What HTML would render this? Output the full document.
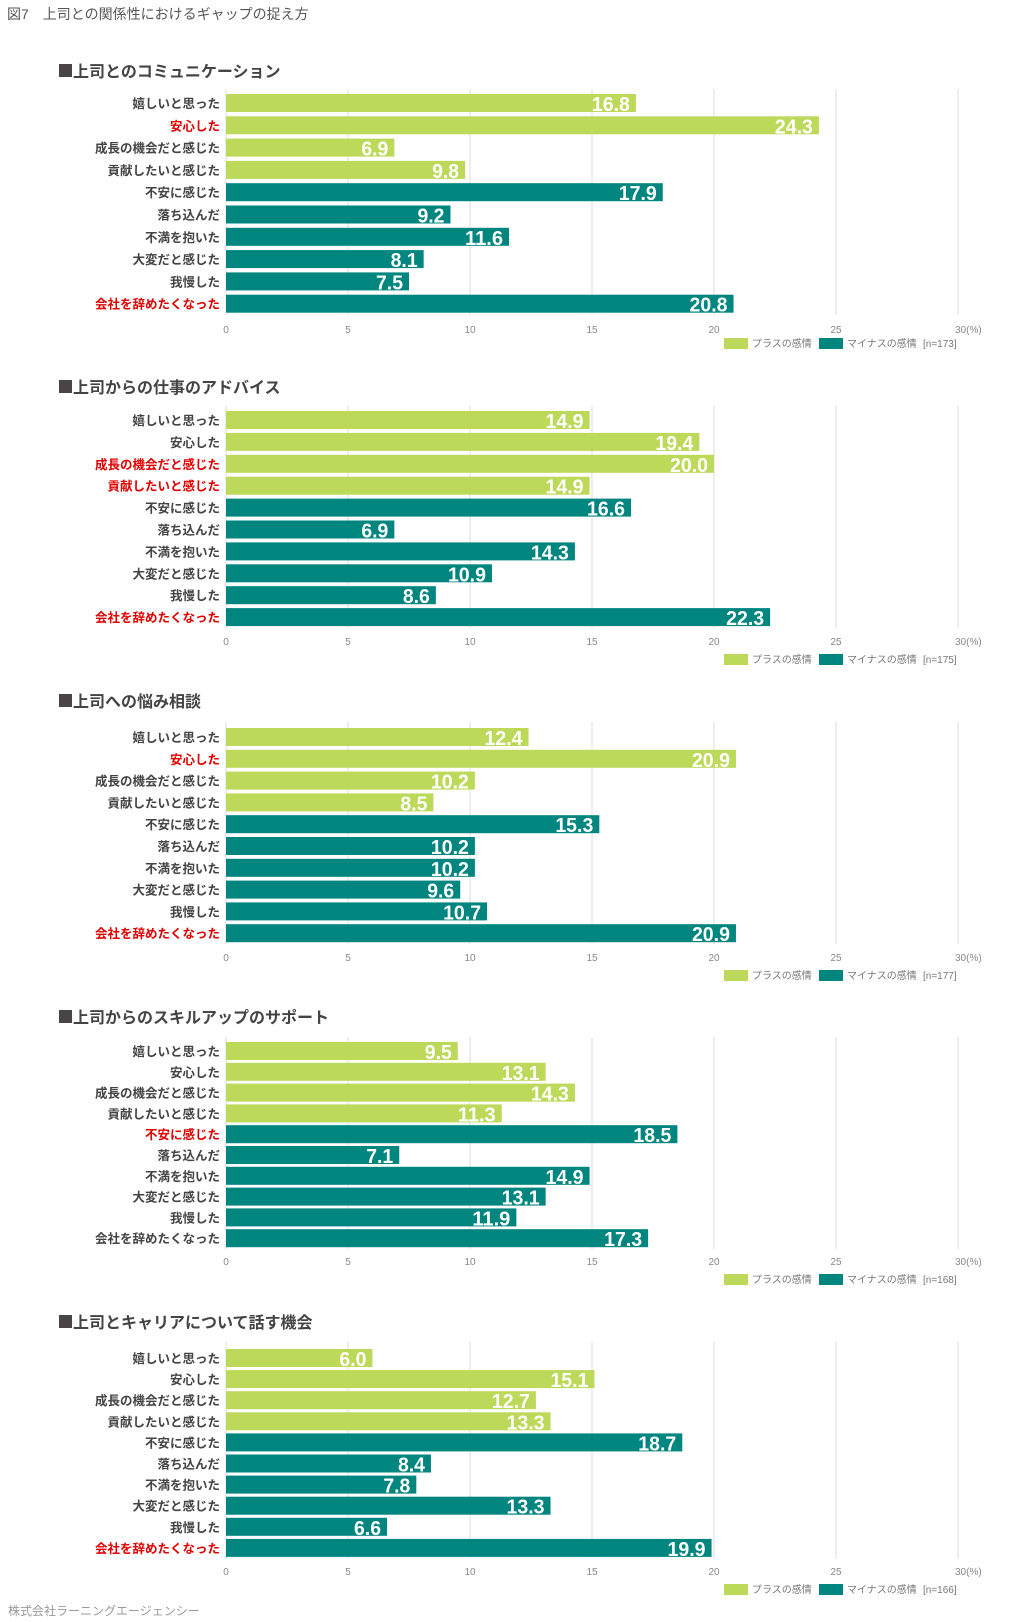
<!DOCTYPE html>
<html><head><meta charset="utf-8">
<style>
body{margin:0;background:#fff;width:1020px;height:1622px;overflow:hidden;font-family:"Liberation Sans","Noto Sans CJK JP",sans-serif;}
svg{display:block}
</style></head>
<body>
<svg id="c" width="1020" height="1622" xmlns="http://www.w3.org/2000/svg"></svg>
<script>
const categories = ["嬉しいと思った","安心した","成長の機会だと感じた","貢献したいと感じた","不安に感じた","落ち込んだ","不満を抱いた","大変だと感じた","我慢した","会社を辞めたくなった"];
const titles = ["上司とのコミュニケーション","上司からの仕事のアドバイス","上司への悩み相談","上司からのスキルアップのサポート","上司とキャリアについて話す機会"];
const values1 = [16.8,24.3,6.9,9.8,17.9,9.2,11.6,8.1,7.5,20.8];
const values2 = [14.9,19.4,20.0,14.9,16.6,6.9,14.3,10.9,8.6,22.3];
const values3 = [12.4,20.9,10.2,8.5,15.3,10.2,10.2,9.6,10.7,20.9];
const values4 = [9.5,13.1,14.3,11.3,18.5,7.1,14.9,13.1,11.9,17.3];
const values5 = [6.0,15.1,12.7,13.3,18.7,8.4,7.8,13.3,6.6,19.9];
const highlights1 = [1,9];
const highlights2 = [2,3,9];
const highlights3 = [1,9];
const highlights4 = [4];
const highlights5 = [9];
const sampleSizes = [173,175,177,168,166];
const ticks = [0,5,10,15,20,25,30];

const NS="http://www.w3.org/2000/svg";
const svg=document.getElementById('c');
function mk(tag,attrs,parent){const e=document.createElementNS(NS,tag);for(const k in attrs)e.setAttribute(k,attrs[k]);(parent||svg).appendChild(e);return e;}
const FONT='"Liberation Sans","Noto Sans CJK JP",sans-serif';
const NUMFONT='"Liberation Sans Narrow","Liberation Sans",sans-serif';

let t=mk('text',{x:7,y:19,'font-size':14,fill:'#555','font-family':FONT});
t.textContent='図7　上司との関係性におけるギャップの捉え方';


t=mk('text',{x:8,y:1615,'font-size':12,fill:'#999','font-family':FONT});
t.textContent='株式会社ラーニングエージェンシー';



const layouts=[
 {titleY:77,gridTop:89,barTop:94,step:22.3,axisY:333,legY:343},
 {titleY:393,gridTop:406,barTop:411,step:21.9,axisY:645,legY:659},
 {titleY:707,gridTop:722,barTop:728,step:21.8,axisY:961,legY:975},
 {titleY:1023,gridTop:1037,barTop:1042,step:20.8,axisY:1265,legY:1279},
 {titleY:1328,gridTop:1342,barTop:1349,step:21.1,axisY:1575,legY:1589}
];
const allValues=[values1,values2,values3,values4,values5];
const allHigh=[highlights1,highlights2,highlights3,highlights4,highlights5];
const x0=226, pxPer=24.4, barH=18;
function xs(v){return x0+v*pxPer;}

layouts.forEach((L,ci)=>{
  const g=mk('g',{});
  
  
  const sq=mk('rect',{x:59,y:L.titleY-13,width:13,height:13,fill:'#4a4545'},g);
  
  
  const tt=mk('text',{x:73,y:L.titleY,'font-size':16,'font-weight':'bold',fill:'#444','font-family':FONT},g);
  tt.textContent=titles[ci];
  
  
  const gridBottom=L.barTop+9*L.step+barH+2;
  ticks.forEach(tk=>{
    const gl=mk('line',{x1:xs(tk),x2:xs(tk),y1:L.gridTop,y2:gridBottom,stroke:'#ddd','stroke-width':1},g);
    
    
    const tl=mk('text',{x:xs(tk),y:L.axisY,'font-size':10,fill:'#888','text-anchor':'middle','font-family':FONT},g);
    tl.textContent=tk===30?'30(%)':String(tk);
    if(tk===30){tl.setAttribute('x',xs(tk)-3);tl.setAttribute('text-anchor','start');}
    
    
  });
  const vals=allValues[ci];
  categories.forEach((c,i)=>{
    const y=L.barTop+i*L.step;
    const red=allHigh[ci].includes(i);
    const lb=mk('text',{x:220,y:y+14,'font-size':12.5,'font-weight':'bold',fill:red?'#e00000':'#444','text-anchor':'end','font-family':FONT},g);
    lb.textContent=c;
    
    
    const r=mk('rect',{x:x0,y:y,width:vals[i]*pxPer,height:barH,fill:i<4?'#bcd95a':'#00857f'},g);
    
    
    const s=vals[i].toFixed(1);
    const vl=mk('text',{x:xs(vals[i])-6,y:y+17,'font-size':20,'font-weight':'bold',fill:'#fff','text-anchor':'end','font-family':NUMFONT,textLength:(s.length-1)*11+5,lengthAdjust:'spacingAndGlyphs'},g);
    vl.textContent=s;
    
    
  });
  const lg=mk('g',{},g);
  
  
  let b=mk('rect',{x:724,y:L.legY-5,width:24,height:11,fill:'#bcd95a'},lg);
  
  
  let lt=mk('text',{x:752,y:L.legY+4,'font-size':10,fill:'#777','font-family':FONT},lg);
  lt.textContent='プラスの感情';
  
  
  b=mk('rect',{x:819,y:L.legY-5,width:24,height:11,fill:'#00857f'},lg);
  
  
  lt=mk('text',{x:847,y:L.legY+4,'font-size':10,fill:'#777','font-family':FONT},lg);
  lt.textContent='マイナスの感情';
  
  
  lt=mk('text',{x:923,y:L.legY+4,'font-size':10,fill:'#777','font-family':FONT},lg);
  lt.textContent='[n='+sampleSizes[ci]+']';
  
  
});
</script>
</body></html>
